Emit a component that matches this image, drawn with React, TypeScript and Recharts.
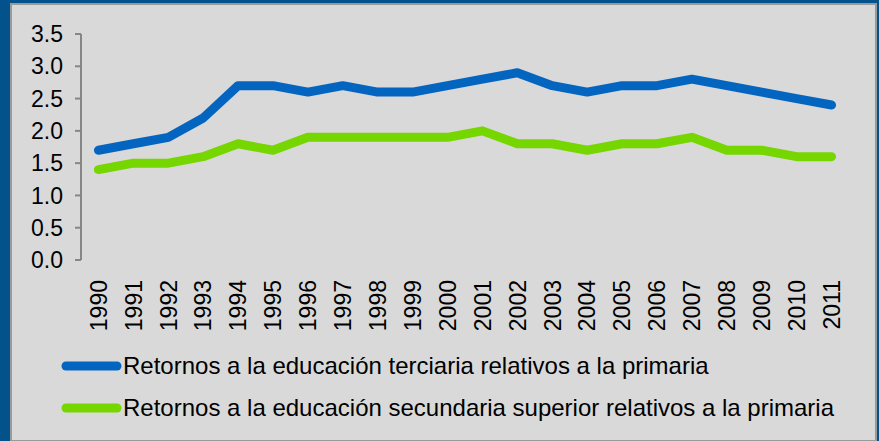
import { Line, LineChart, XAxis, YAxis } from "recharts";

const years = [
  "1990", "1991", "1992", "1993", "1994", "1995", "1996", "1997", "1998", "1999", "2000",
  "2001", "2002", "2003", "2004", "2005", "2006", "2007", "2008", "2009", "2010", "2011",
];
const terciaria = [1.7, 1.8, 1.9, 2.2, 2.7, 2.7, 2.6, 2.7, 2.6, 2.6, 2.7, 2.8, 2.9, 2.7, 2.6, 2.7, 2.7, 2.8, 2.7, 2.6, 2.5, 2.4];
const secundaria = [1.4, 1.5, 1.5, 1.6, 1.8, 1.7, 1.9, 1.9, 1.9, 1.9, 1.9, 2.0, 1.8, 1.8, 1.7, 1.8, 1.8, 1.9, 1.7, 1.7, 1.6, 1.6];
const yTicks = [0, 0.5, 1, 1.5, 2, 2.5, 3, 3.5];
const edgeTicks = years.map((_, i) => i).concat([years.length]);

const seriesNames = {
  ter: "Retornos a la educación terciaria relativos a la primaria",
  sec: "Retornos a la educación secundaria superior relativos a la primaria",
};

const BLUE = "#0365c0";
const GREEN = "#76d600";
const AXIS = "#868686";
const FONT = "'Liberation Sans', Arial, sans-serif";

const data = years.map((y, i) => ({ year: y, ter: terciaria[i], sec: secundaria[i] }));

function YearTick(props: any) {
  const { x, y, payload } = props;
  return (
    <text
      x={x}
      y={y}
      transform={`rotate(-90 ${x} ${y})`}
      textAnchor="end"
      dy="0.36em"
      fontSize={23}
      fontFamily={FONT}
      fill="#000"
    >
      {payload.value}
    </text>
  );
}

function LegendRow({ color, label, top }: { color: string; label: string; top: number }) {
  return (
    <div style={{ position: "absolute", left: 61, top: top - 14, height: 28, display: "flex", alignItems: "center" }}>
      <svg width={62} height={28} style={{ display: "block" }}>
        <line x1={5} y1={14} x2={56} y2={14} stroke={color} strokeWidth={9} strokeLinecap="round" />
      </svg>
      <span style={{ fontFamily: FONT, fontSize: 24, color: "#000", whiteSpace: "nowrap" }}>{label}</span>
    </div>
  );
}

export default function App() {
  return (
    <div style={{ position: "absolute", left: 0, top: 0, width: 879, height: 441, background: "#03528c", overflow: "hidden" }}>
      <div
        style={{
          position: "absolute",
          left: 10,
          top: 3,
          width: 867,
          height: 438,
          boxSizing: "border-box",
          background: "#d9d9d9",
          borderLeft: "2px solid #9a9a9a",
          borderTop: "2px solid #9a9a9a",
          borderRight: "2px solid #9a9a9a",
          borderBottom: "1px solid #9a9a9a",
        }}
      />
      <div style={{ position: "absolute", left: 0, top: 0 }}>
        <LineChart width={879} height={441} data={data} margin={{ top: 34, right: 30, left: 21, bottom: 121 }}>
          <XAxis
            xAxisId="edge"
            type="number"
            domain={[0, years.length]}
            ticks={edgeTicks}
            allowDataOverflow
            height={0}
            interval={0}
            tickFormatter={() => ""}
            tickLine={{ stroke: AXIS, strokeWidth: 2 }}
            tickSize={7}
            stroke={AXIS}
            strokeWidth={2}
          />
          <XAxis
            dataKey="year"
            scale="band"
            height={60}
            axisLine={false}
            tickLine={false}
            interval={0}
            tickMargin={14}
            tick={<YearTick />}
          />
          <YAxis
            domain={[0, 3.5]}
            ticks={yTicks}
            width={60}
            tickSize={6}
            tickMargin={12}
            stroke={AXIS}
            strokeWidth={2}
            tickFormatter={(v: number) => v.toFixed(1)}
            tick={{ fontSize: 23, fontFamily: FONT, fill: "#000" }}
          />
          <Line
            dataKey="ter"
            name={seriesNames.ter}
            stroke={BLUE}
            strokeWidth={9}
            strokeLinecap="round"
            strokeLinejoin="round"
            dot={false}
            activeDot={false}
            isAnimationActive={false}
          />
          <Line
            dataKey="sec"
            name={seriesNames.sec}
            stroke={GREEN}
            strokeWidth={9}
            strokeLinecap="round"
            strokeLinejoin="round"
            dot={false}
            activeDot={false}
            isAnimationActive={false}
          />
        </LineChart>
      </div>
      <LegendRow color={BLUE} label={seriesNames.ter} top={366} />
      <LegendRow color={GREEN} label={seriesNames.sec} top={408} />
    </div>
  );
}
